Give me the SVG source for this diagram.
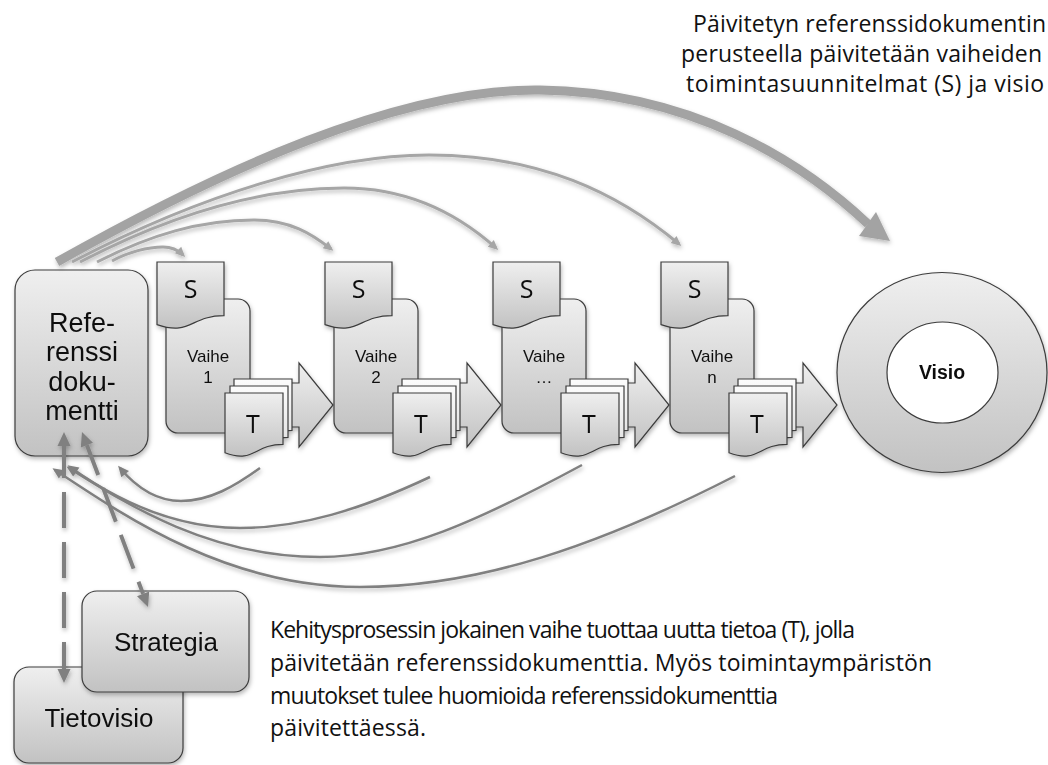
<svg xmlns="http://www.w3.org/2000/svg" width="1048" height="765" viewBox="0 0 1048 765">
  <defs>
    <linearGradient id="gShape" x1="0" y1="0" x2="0" y2="1">
      <stop offset="0" stop-color="#efefef"/>
      <stop offset="1" stop-color="#c2c2c2"/>
    </linearGradient>
    <linearGradient id="gPaper" x1="0" y1="0" x2="0" y2="1">
      <stop offset="0" stop-color="#fcfcfc"/>
      <stop offset="1" stop-color="#e0e0e0"/>
    </linearGradient>
    <filter id="sh" filterUnits="userSpaceOnUse" x="0" y="0" width="1048" height="765">
      <feDropShadow dx="1" dy="2.5" stdDeviation="2" flood-color="#000000" flood-opacity="0.28"/>
    </filter>
    <!-- document shapes with a wavy lower edge -->
    <path id="docS" d="M0,0 H67 V53.7 C33.5,53.7 33.5,74.2 0,62.6 Z"/>
    <path id="docT" d="M0,0 H58 V51.3 C29,51.3 29,70.8 0,59.8 Z"/>
    <!-- block arrow leading to the next stage -->
    <path id="blk" d="M270,383 H299 V363 L333,405 L299,447 V427 H270 Z"/>
    <marker id="mA" markerUnits="userSpaceOnUse" markerWidth="12" markerHeight="12" refX="7" refY="0" orient="auto" overflow="visible">
      <path d="M0,-4.5 L10,0 L0,4.5 Z" fill="#a6a6a6"/>
    </marker>
    <marker id="mR" markerUnits="userSpaceOnUse" markerWidth="12" markerHeight="12" refX="8" refY="0" orient="auto" overflow="visible">
      <path d="M0,-5 L11,0 L0,5 Z" fill="#808080"/>
    </marker>
    <marker id="mD" markerUnits="userSpaceOnUse" markerWidth="16" markerHeight="16" refX="0" refY="0" orient="auto-start-reverse" overflow="visible">
      <path d="M0,-6.5 L14,0 L0,6.5 Z" fill="#808080"/>
    </marker>
  </defs>
  <style>
    .shape{fill:url(#gShape);stroke:#3c3c3c;stroke-width:1.2}
    .paper{fill:url(#gPaper);stroke:#3c3c3c;stroke-width:1.2}
    .lbl{font-family:"Liberation Sans",Arial,sans-serif;fill:#111111;text-anchor:middle}
    .cal{font-family:"Open Sans","Liberation Sans",sans-serif;fill:#111111}
    .arc{fill:none;stroke:#a6a6a6;stroke-width:3;marker-end:url(#mA)}
    .ret{fill:none;stroke:#808080;stroke-width:2.5;marker-end:url(#mR)}
    .dash{fill:none;stroke:#808080;stroke-width:4;stroke-dasharray:36 14;stroke-dashoffset:4;marker-start:url(#mD);marker-end:url(#mD)}
  </style>

  <rect width="1048" height="765" fill="#ffffff"/>

  <!-- reference document -->
  <g id="referenssidokumentti" filter="url(#sh)">
    <rect class="shape" x="15" y="270" width="133" height="186" rx="20"/>
    <text class="lbl" font-size="27" x="82" y="332">Refe-</text>
    <text class="lbl" font-size="27" x="82" y="361">renssi</text>
    <text class="lbl" font-size="27" x="82" y="391">doku-</text>
    <text class="lbl" font-size="27" x="82" y="420">mentti</text>
  </g>

  <!-- stages -->
  <g id="vaihe-1" filter="url(#sh)">
    <rect class="shape" x="166" y="299" width="84" height="134" rx="12"/>
    <use href="#docS" class="shape" x="157" y="262"/>
    <text class="cal" font-size="25" x="190.5" y="298" text-anchor="middle">S</text>
    <text class="lbl" font-size="17" x="208" y="362">Vaihe</text>
    <text class="lbl" font-size="17" x="208" y="383">1</text>
    <use href="#blk" class="shape"/>
    <use href="#docT" class="paper" x="234" y="379"/>
    <use href="#docT" class="paper" x="230" y="386"/>
    <use href="#docT" class="shape" x="225" y="393"/>
    <text class="cal" font-size="25" x="253" y="433" text-anchor="middle">T</text>
  </g>

  <g id="vaihe-2" filter="url(#sh)" transform="translate(168,0)">
    <rect class="shape" x="166" y="299" width="84" height="134" rx="12"/>
    <use href="#docS" class="shape" x="157" y="262"/>
    <text class="cal" font-size="25" x="190.5" y="298" text-anchor="middle">S</text>
    <text class="lbl" font-size="17" x="208" y="362">Vaihe</text>
    <text class="lbl" font-size="17" x="208" y="383">2</text>
    <use href="#blk" class="shape"/>
    <use href="#docT" class="paper" x="234" y="379"/>
    <use href="#docT" class="paper" x="230" y="386"/>
    <use href="#docT" class="shape" x="225" y="393"/>
    <text class="cal" font-size="25" x="253" y="433" text-anchor="middle">T</text>
  </g>

  <g id="vaihe-3" filter="url(#sh)" transform="translate(336,0)">
    <rect class="shape" x="166" y="299" width="84" height="134" rx="12"/>
    <use href="#docS" class="shape" x="157" y="262"/>
    <text class="cal" font-size="25" x="190.5" y="298" text-anchor="middle">S</text>
    <text class="lbl" font-size="17" x="208" y="362">Vaihe</text>
    <text class="lbl" font-size="17" x="208" y="383">…</text>
    <use href="#blk" class="shape"/>
    <use href="#docT" class="paper" x="234" y="379"/>
    <use href="#docT" class="paper" x="230" y="386"/>
    <use href="#docT" class="shape" x="225" y="393"/>
    <text class="cal" font-size="25" x="253" y="433" text-anchor="middle">T</text>
  </g>

  <g id="vaihe-n" filter="url(#sh)" transform="translate(504,0)">
    <rect class="shape" x="166" y="299" width="84" height="134" rx="12"/>
    <use href="#docS" class="shape" x="157" y="262"/>
    <text class="cal" font-size="25" x="190.5" y="298" text-anchor="middle">S</text>
    <text class="lbl" font-size="17" x="208" y="362">Vaihe</text>
    <text class="lbl" font-size="17" x="208" y="383">n</text>
    <use href="#blk" class="shape"/>
    <use href="#docT" class="paper" x="234" y="379"/>
    <use href="#docT" class="paper" x="230" y="386"/>
    <use href="#docT" class="shape" x="225" y="393"/>
    <text class="cal" font-size="25" x="253" y="433" text-anchor="middle">T</text>
  </g>

  <!-- vision ring -->
  <g id="visio" filter="url(#sh)">
    <ellipse class="shape" cx="942" cy="372.5" rx="105" ry="100"/>
    <ellipse cx="942.5" cy="372.5" rx="55.5" ry="50.5" fill="#ffffff" stroke="#3c3c3c" stroke-width="1.2"/>
    <text class="lbl" font-size="19.5" font-weight="bold" x="942" y="379">Visio</text>
  </g>

  <!-- information vision and strategy -->
  <g id="tietovisio" filter="url(#sh)">
    <rect class="shape" x="14" y="667" width="169" height="96" rx="15"/>
    <text class="lbl" font-size="26" x="99" y="727">Tietovisio</text>
  </g>
  <g id="strategia" filter="url(#sh)">
    <rect class="shape" x="82" y="591" width="167" height="101" rx="15"/>
    <text class="lbl" font-size="26" x="166" y="651">Strategia</text>
  </g>

  <!-- connectors -->
  <g id="connectors" filter="url(#sh)">
    <path d="M57,262 C220,170 400,88 540,90 C690,92 800,160 868,224" fill="none" stroke="#a3a3a3" stroke-width="9"/>
    <polygon points="859,236 876,212 890,241" fill="#a3a3a3"/>
    <path class="arc" d="M72,262 C200,195 330,155 429,155 C540,155 618,193 679,244"/>
    <path class="arc" d="M80,262 C170,215 260,188 344,188 C410,188 458,214 496,248"/>
    <path class="arc" d="M97,262 C150,235 200,220 254,220 C290,220 312,234 331,249"/>
    <path class="arc" d="M112,261 C128,252 148,247 163,247 C172,247 178,250 183,255"/>

    <path class="ret" d="M260,468 C235,486 210,501 181,501 C156,501 136,487 120,468"/>
    <path class="ret" d="M430,477 C360,510 300,528 240,528 C170,528 112,497 70,467"/>
    <path class="ret" d="M582,465 C480,520 400,557 320,557 C210,557 128,505 69,468"/>
    <path class="ret" d="M735,476 C600,545 480,587 360,587 C230,587 130,520 55,470"/>

    <path class="dash" d="M64,446 L64,669"/>
    <path class="dash" d="M86.9,445.1 L143.1,593.9"/>
  </g>

  <!-- captions -->
  <g id="caption-top" class="cal" font-size="23">
    <text x="693" y="32" textLength="353">Päivitetyn referenssidokumentin</text>
    <text x="681" y="62" textLength="361">perusteella päivitetään vaiheiden</text>
    <text x="686" y="92" textLength="358">toimintasuunnitelmat (S) ja visio</text>
  </g>
  <g id="caption-bottom" class="cal" font-size="23">
    <text x="270" y="638" textLength="585">Kehitysprosessin jokainen vaihe tuottaa uutta tietoa (T), jolla</text>
    <text x="270" y="671" textLength="662">päivitetään referenssidokumenttia. Myös toimintaympäristön</text>
    <text x="270" y="704" textLength="508">muutokset tulee huomioida referenssidokumenttia</text>
    <text x="270" y="736" textLength="156">päivitettäessä.</text>
  </g>
</svg>
